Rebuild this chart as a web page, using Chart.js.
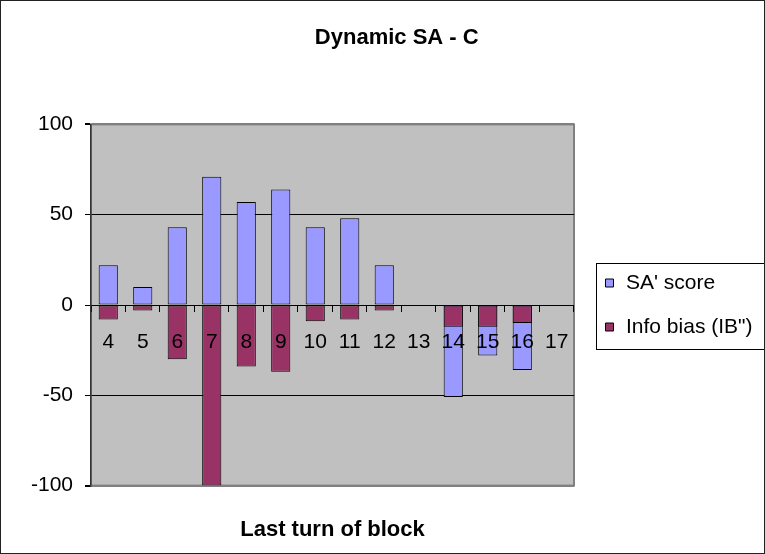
<!DOCTYPE html>
<html>
<head>
<meta charset="utf-8">
<script src="https://cdn.jsdelivr.net/npm/chart.js@4"></script>
<style>
  body { margin: 0; background: #fff; }
  #wrap { width: 765px; height: 554px; box-sizing: border-box; border: 1px solid #222; }
</style>
</head>
<body>
<div id="wrap"><canvas id="myChart"></canvas></div>
<script>
const labels = ["4", "5", "6", "7", "8", "9", "10", "11", "12", "13", "14", "15", "16", "17"];
const saScore = [22, 10, 43, 71, 57, 64, 43, 48, 22, 0, -51, -28, -36, 0];
const infoBias = [-8, -3, -30, -100, -34, -37, -9, -8, -3, 0, -12, -12, -10, 0];
const yTicks = [-100, -50, 0, 50, 100];

const font = "'Liberation Sans', Arial, sans-serif";

// grey plot area + frame, like the old Excel charts
const plotArea = {
  id: "plotArea",
  beforeDraw(chart) {
    const { ctx, chartArea: a } = chart;
    ctx.save();
    ctx.fillStyle = "#C0C0C0";
    ctx.fillRect(a.left, a.top, a.right - a.left, a.bottom - a.top);
    ctx.strokeStyle = "#808080";
    ctx.lineWidth = 2;
    ctx.strokeRect(a.left, a.top, a.right - a.left, a.bottom - a.top);
    ctx.restore();
  },
  afterDraw(chart) {
    // box round the legend
    const boxes = chart.legend.legendHitBoxes;
    if (!boxes || !boxes.length) return;
    const first = boxes[0];
    const last = boxes[boxes.length - 1];
    const top = Math.round(first.top + first.height / 2 - 20) + 0.5;
    const bottom = Math.round(last.top + last.height / 2 + 22) + 0.5;
    const left = Math.round(first.left - 7) + 0.5;
    const ctx = chart.ctx;
    ctx.save();
    ctx.strokeStyle = "#000";
    ctx.lineWidth = 1;
    ctx.strokeRect(left, top, chart.width - left + 5, bottom - top);
    ctx.restore();
  },
};

const data = {
  labels: labels,
  datasets: [
    {
      label: "SA' score",
      data: saScore,
      backgroundColor: "#9999FF",
      borderColor: "#000",
      borderWidth: 1,
      borderSkipped: false,
      order: 2,
    },
    {
      label: "Info bias (IB\")",
      data: infoBias,
      backgroundColor: "#993366",
      borderColor: "#000",
      borderWidth: 1,
      borderSkipped: false,
      order: 1,
    },
  ],
};

const config = {
  type: "bar",
  data: data,
  plugins: [plotArea],
  options: {
    responsive: true,
    maintainAspectRatio: false,
    animation: false,
    layout: {
      padding: { left: 30, right: 1.5, top: 0, bottom: 0 },
    },
    datasets: {
      bar: {
        grouped: false,
        categoryPercentage: 1,
        barPercentage: 0.555,
      },
    },
    scales: {
      x: {
        position: { y: 0 },
        offset: true,
        grid: {
          display: true,
          drawOnChartArea: false,
          offset: true,
          color: "#000",
          tickLength: 6,
        },
        border: { display: true, color: "#000", width: 1 },
        ticks: {
          z: 1,
          color: "#000",
          autoSkip: false,
          maxRotation: 0,
          padding: 19,
          font: { size: 21, family: font },
        },
      },
      y: {
        min: -100,
        max: 100,
        afterBuildTicks(scale) {
          scale.ticks = yTicks.map((v) => ({ value: v }));
        },
        afterFit(scale) {
          scale.width = 60;
        },
        grid: {
          color: (c) => (c.tick && Math.abs(c.tick.value) === 100 ? "#808080" : "#000"),
          tickColor: "#000",
          tickLength: 6,
          lineWidth: (c) => (c.tick && Math.abs(c.tick.value) === 100 ? 2 : 1),
        },
        border: { display: true, color: "#333", width: 1.5 },
        ticks: {
          color: "#000",
          padding: 12,
          font: { size: 21, family: font },
        },
      },
      // empty axis, only keeps a gap between plot and legend
      gap: {
        axis: "y",
        position: "right",
        grid: { display: false },
        border: { display: false },
        ticks: { display: false },
        afterFit(scale) {
          scale.width = 6.5;
        },
      },
    },
    plugins: {
      title: {
        display: true,
        text: "Dynamic SA - C",
        color: "#000",
        font: { size: 22, weight: "bold", family: font },
        padding: { top: 24, bottom: 73 },
      },
      subtitle: {
        display: true,
        position: "bottom",
        fullSize: false,
        text: "Last turn of block",
        color: "#000",
        font: { size: 22, weight: "bold", family: font },
        padding: { top: 31, bottom: 10 },
      },
      legend: {
        position: "right",
        fullSize: false,
        maxWidth: 220,
        labels: {
          color: "#000",
          boxWidth: 12,
          boxHeight: 8,
          usePointStyle: true,
          pointStyle: "rect",
          padding: 23,
          font: { size: 21, family: font },
          sort: (a, b) => a.datasetIndex - b.datasetIndex,
        },
      },
      tooltip: { enabled: false },
    },
  },
};

const myChart = new Chart(document.getElementById("myChart"), config);
</script>
</body>
</html>
